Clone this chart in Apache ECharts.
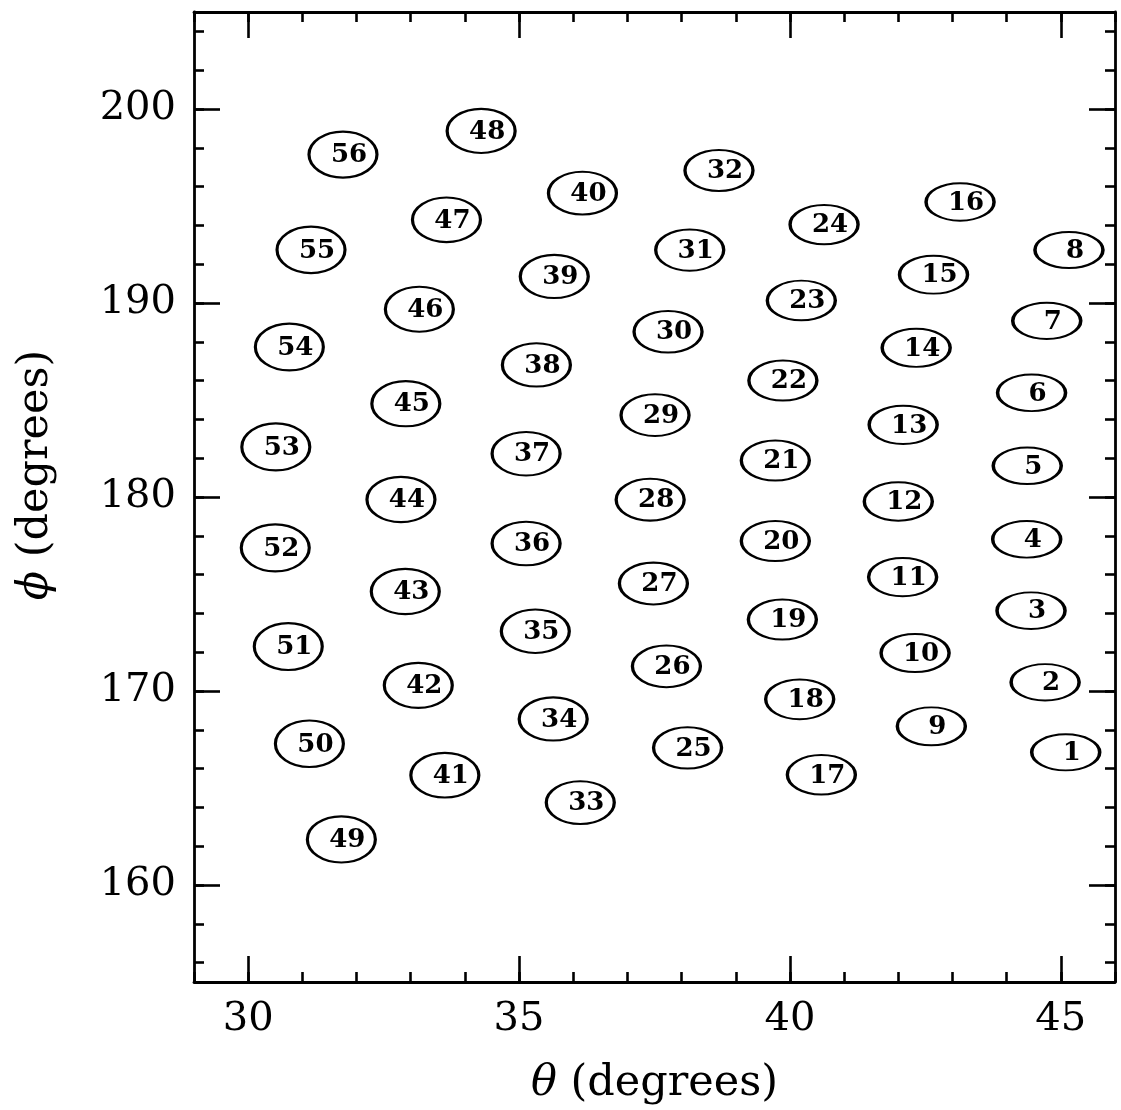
<!DOCTYPE html>
<html>
<head>
<meta charset="utf-8">
<script src="https://cdn.jsdelivr.net/npm/echarts@6/dist/echarts.min.js"></script>
<style>
  html, body { margin: 0; padding: 0; background: #fff; }
  #chart { width: 1121px; height: 1110px; }
</style>
</head>
<body>
<div id="chart"></div>
<script>
// Cell numbers and their angular positions (degrees)
const cellIds = [
  1, 2, 3, 4, 5, 6, 7, 8,
  9, 10, 11, 12, 13, 14, 15, 16,
  17, 18, 19, 20, 21, 22, 23, 24,
  25, 26, 27, 28, 29, 30, 31, 32,
  33, 34, 35, 36, 37, 38, 39, 40,
  41, 42, 43, 44, 45, 46, 47, 48,
  49, 50, 51, 52, 53, 54, 55, 56
];
const theta = [
  45.09, 44.71, 44.45, 44.37, 44.38, 44.46, 44.74, 45.15,
  42.61, 42.31, 42.08, 42.00, 42.09, 42.33, 42.65, 43.14,
  40.58, 40.18, 39.86, 39.73, 39.73, 39.87, 40.21, 40.63,
  38.11, 37.72, 37.48, 37.42, 37.51, 37.75, 38.15, 38.69,
  36.13, 35.63, 35.30, 35.13, 35.13, 35.32, 35.65, 36.17,
  33.63, 33.14, 32.90, 32.82, 32.91, 33.16, 33.66, 34.30,
  31.72, 31.13, 30.74, 30.50, 30.51, 30.76, 31.16, 31.75
];
const phi = [
  166.84, 170.45, 174.14, 177.82, 181.61, 185.37, 189.08, 192.73,
  168.18, 171.96, 175.87, 179.77, 183.72, 187.69, 191.46, 195.21,
  165.68, 169.57, 173.68, 177.73, 181.88, 186.00, 190.13, 194.04,
  167.07, 171.27, 175.54, 179.86, 184.22, 188.52, 192.73, 196.83,
  164.25, 168.56, 173.08, 177.60, 182.23, 186.81, 191.37, 195.66,
  165.66, 170.29, 175.13, 179.87, 184.81, 189.68, 194.29, 198.87,
  162.35, 167.28, 172.29, 177.38, 182.58, 187.73, 192.74, 197.65
];

// Axis ticks
const xMajorTicks = [30, 35, 40, 45];
const xMinorTicks = [29, 30, 31, 32, 33, 34, 35, 36, 37, 38, 39, 40, 41, 42, 43, 44, 45, 46];
const yMajorTicks = [160, 170, 180, 190, 200];
const yMinorTicks = [156, 158, 160, 162, 164, 166, 168, 170, 172, 174, 176, 178, 180,
  182, 184, 186, 188, 190, 192, 194, 196, 198, 200, 202, 204];

const FONT = 'DejaVu Serif';
const INK = '#000';

// Ellipse outline as a unit path (stretched to symbolSize)
const ELLIPSE = 'path://M-1,0C-1,-0.5523,-0.5523,-1,0,-1C0.5523,-1,1,-0.5523,1,0' +
  'C1,0.5523,0.5523,1,0,1C-0.5523,1,-1,0.5523,-1,0Z';

const points = cellIds.map((id, i) => [theta[i], phi[i], id]);

function frameAxis(kind, position, ticks, len, extra) {
  const base = {
    type: 'value',
    position: position,
    min: kind === 'x' ? 29 : 155,
    max: kind === 'x' ? 46 : 205,
    axisLine: { show: false, onZero: false },
    axisTick: {
      show: true, inside: true, length: len, customValues: ticks,
      lineStyle: { color: INK, width: 2.6 }
    },
    axisLabel: { show: false },
    splitLine: { show: false }
  };
  return Object.assign(base, extra || {});
}

const lineOn = { show: true, onZero: false, lineStyle: { color: INK, width: 2.8 } };
const tickLabel = (ticks, margin) => ({
  show: true, customValues: ticks, margin: margin,
  fontFamily: FONT, fontSize: 40, color: INK
});
const nameStyle = {
  fontFamily: FONT, fontSize: 43, color: INK,
  rich: { i: { fontFamily: FONT, fontSize: 43, fontStyle: 'italic', color: INK } }
};

const chart = echarts.init(document.getElementById('chart'), null, { renderer: 'canvas' });
chart.setOption({
  animation: false,
  backgroundColor: '#fff',
  grid: { left: 194, right: 6, top: 12, bottom: 127, containLabel: false },
  xAxis: [
    frameAxis('x', 'bottom', xMajorTicks, 26, {
      axisLine: lineOn,
      axisLabel: tickLabel(xMajorTicks, 18),
      name: '{i|θ} (degrees)',
      nameLocation: 'middle',
      nameGap: 80,
      nameTextStyle: nameStyle
    }),
    frameAxis('x', 'bottom', xMinorTicks, 10),
    frameAxis('x', 'top', xMajorTicks, 26, { axisLine: lineOn }),
    frameAxis('x', 'top', xMinorTicks, 10)
  ],
  yAxis: [
    frameAxis('y', 'left', yMajorTicks, 26, {
      axisLine: lineOn,
      axisLabel: tickLabel(yMajorTicks, 18),
      name: '{i|ϕ} (degrees)',
      nameLocation: 'middle',
      nameGap: 137,
      nameRotate: 90,
      nameTextStyle: Object.assign({ padding: [0, 0, 0, 44] }, nameStyle)
    }),
    frameAxis('y', 'left', yMinorTicks, 10),
    frameAxis('y', 'right', yMajorTicks, 26, { axisLine: lineOn }),
    frameAxis('y', 'right', yMinorTicks, 10)
  ],
  series: [{
    type: 'scatter',
    xAxisIndex: 0,
    yAxisIndex: 0,
    data: points,
    symbol: ELLIPSE,
    symbolKeepAspect: false,
    // outlines get flatter toward larger theta
    symbolSize: v => [68, 47 - 0.75 * (v[0] - 30.5)],
    itemStyle: { color: 'rgba(0,0,0,0)', borderColor: INK, borderWidth: 2.6, opacity: 1 },
    label: {
      show: true,
      position: 'inside',
      offset: [6, 1],
      formatter: p => String(p.value[2]),
      fontFamily: FONT,
      fontWeight: 'bold',
      fontSize: 26,
      color: INK
    },
    emphasis: { disabled: true },
    silent: true
  }]
});
</script>
</body>
</html>
